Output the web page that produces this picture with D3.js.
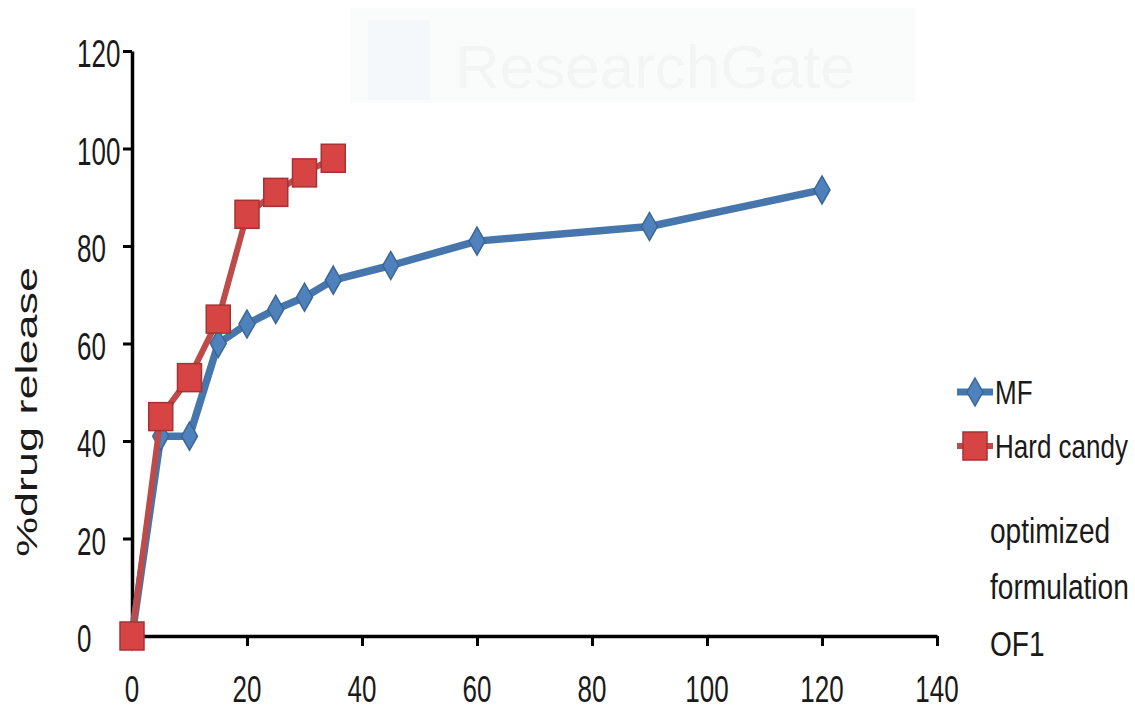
<!DOCTYPE html>
<html>
<head>
<meta charset="utf-8">
<script src="https://cdn.jsdelivr.net/npm/d3@7"></script>
<style>
  html, body { margin: 0; padding: 0; background: #ffffff; }
  svg { display: block; }
  text { font-family: "Liberation Sans", Arial, sans-serif; fill: #1a1a1a; }
</style>
</head>
<body>
<svg id="chart" width="1135" height="709"></svg>
<script>
// ---- data ----
const mfTime     = [0, 5, 10, 15, 20, 25, 30, 35, 45, 60, 90, 120];
const mfRelease  = [0, 41, 41, 60, 64, 67, 69.5, 73, 76, 81, 84, 91.5];
const hcTime     = [0, 5, 10, 15, 20, 25, 30, 35];
const hcRelease  = [0, 45, 53, 65, 86.5, 91, 95, 98];
const xTicks     = [0, 20, 40, 60, 80, 100, 120, 140];
const yTicks     = [0, 20, 40, 60, 80, 100, 120];
const seriesNames = ["MF", "Hard candy"];
const yTitle     = "%drug release";
const noteLines  = ["optimized", "formulation", "OF1"];

// ---- layout ----
const svg = d3.select("#chart");
const x = d3.scaleLinear().domain([0, 140]).range([132, 937]);
const y = d3.scaleLinear().domain([0, 120]).range([636, 51]);

const blueLine = "#4676AC", blueMark = "#4F81BD", blueStroke = "#3A6696";
const redLine = "#BE4A4A", redMark = "#D64444", redStroke = "#A43434";

// faint watermark
const wm = svg.append("g");
wm.append("rect").attr("x", 350).attr("y", 8).attr("width", 565).attr("height", 95).attr("fill", "#fafcfc");
wm.append("rect").attr("x", 368).attr("y", 20).attr("width", 62).attr("height", 80).attr("fill", "#f5f8fa");
wm.append("text").attr("x", 455).attr("y", 88).attr("font-size", 62)
  .style("fill", "#f3f5f5").text("ResearchGate");

// text helper with stretch
function stext(g, tx, ty, str, size, sx, sy, anchor, rot) {
  return g.append("text")
    .attr("transform", `translate(${tx},${ty})` + (rot ? ` rotate(${rot})` : "") + ` scale(${sx},${sy})`)
    .attr("font-size", size)
    .attr("text-anchor", anchor || "start")
    .text(str);
}

// axes
const yAxis = svg.append("g").attr("transform", `translate(${x(0)},0)`)
  .call(d3.axisLeft(y).tickValues(yTicks).tickSize(9).tickSizeOuter(0).tickFormat(""));
const xAxis = svg.append("g").attr("transform", `translate(0,${y(0)})`)
  .call(d3.axisBottom(x).tickValues(xTicks).tickSize(10).tickSizeOuter(0).tickFormat(""));
[yAxis, xAxis].forEach(a => {
  a.select(".domain").attr("stroke", "#000").attr("stroke-width", 3.5);
  a.selectAll(".tick line").attr("stroke", "#000").attr("stroke-width", 3);
});

// tick labels
const lab = svg.append("g");
yTicks.forEach(v => stext(lab, 77, y(v) + 16, String(v), 26, 1, 1.5, "start"));
xTicks.forEach(v => stext(lab, x(v), 702, String(v), 26, 1, 1.45, "middle"));

// y title
stext(lab, 37, 412, yTitle, 29, 1.55, 1, "middle", -90);

// series lines
const line = d3.line().x(d => x(d[0])).y(d => y(d[1]));
const mf = mfTime.map((t, i) => [t, mfRelease[i]]);
const hc = hcTime.map((t, i) => [t, hcRelease[i]]);

svg.append("path").datum(mf).attr("d", line).attr("fill", "none")
  .attr("stroke", blueLine).attr("stroke-width", 7.5).attr("stroke-linejoin", "round");
svg.selectAll(".mfm").data(mf).enter().append("path").attr("class", "mfm")
  .attr("transform", d => `translate(${x(d[0])},${y(d[1])})`)
  .attr("d", "M0,-14 L8,0 L0,14 L-8,0 Z")
  .attr("fill", blueMark).attr("stroke", blueStroke).attr("stroke-width", 1.5);

svg.append("path").datum(hc).attr("d", line).attr("fill", "none")
  .attr("stroke", redLine).attr("stroke-width", 6).attr("stroke-linejoin", "round");
svg.selectAll(".hcm").data(hc).enter().append("rect").attr("class", "hcm")
  .attr("x", d => x(d[0]) - 12).attr("y", d => y(d[1]) - 14)
  .attr("width", 24).attr("height", 28)
  .attr("fill", redMark).attr("stroke", redStroke).attr("stroke-width", 1.5);

// legend
const lg = svg.append("g");
lg.append("line").attr("x1", 957).attr("x2", 993).attr("y1", 392).attr("y2", 392)
  .attr("stroke", blueLine).attr("stroke-width", 7);
lg.append("path").attr("transform", "translate(975,392)").attr("d", "M0,-14 L8,0 L0,14 L-8,0 Z")
  .attr("fill", blueMark).attr("stroke", blueStroke).attr("stroke-width", 1.5);
lg.append("line").attr("x1", 957).attr("x2", 993).attr("y1", 446).attr("y2", 446)
  .attr("stroke", redLine).attr("stroke-width", 6);
lg.append("rect").attr("x", 963).attr("y", 432).attr("width", 24).attr("height", 28)
  .attr("fill", redMark).attr("stroke", redStroke).attr("stroke-width", 1.5);
stext(lg, 995, 404, seriesNames[0], 26, 1, 1.3, "start");
stext(lg, 995, 458, seriesNames[1], 26, 1, 1.3, "start");

// note
const noteY = [543, 599, 656];
noteLines.forEach((s, i) => stext(lg, 990, noteY[i], s, 27, 1.04, 1.3, "start"));
</script>
</body>
</html>
